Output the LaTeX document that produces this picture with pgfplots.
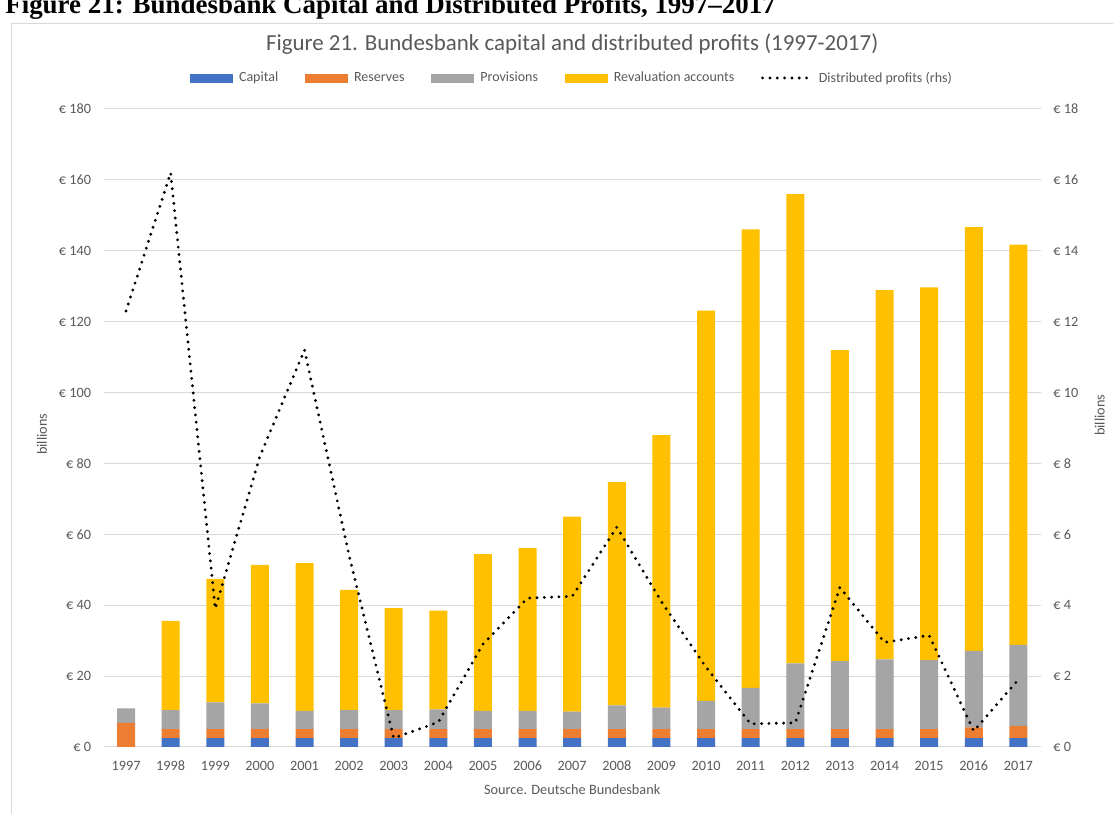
\documentclass[border=0pt]{standalone}
\usepackage{fontspec}
\setmainfont{Carlito}
\newfontfamily\headfont{Liberation Serif}
\usepackage{pgfplots}
\pgfplotsset{compat=1.18}
\usepackage{pgfplotstable}

\definecolor{capblue}{HTML}{4472C4}
\definecolor{resorange}{HTML}{ED7D31}
\definecolor{provgray}{HTML}{A5A5A5}
\definecolor{revyellow}{HTML}{FFC000}
\definecolor{gridgray}{HTML}{D9D9D9}
\definecolor{textgray}{HTML}{595959}

% EUR billions; profit on the right axis
\pgfplotstableread{
idx cap res prov reval profit
0  0   6.8 4.1  0     12.3
1  2.5 2.5 5.4  25.2  16.2
2  2.5 2.5 7.6  34.8  3.9
3  2.5 2.5 7.3  39.1  8.2
4  2.5 2.5 5.2  41.7  11.2
5  2.5 2.5 5.4  33.9  5.4
6  2.5 2.5 5.4  28.8  0.25
7  2.5 2.5 5.6  27.9  0.7
8  2.5 2.5 5.2  44.2  2.9
9  2.5 2.5 5.2  45.9  4.2
10 2.5 2.5 5.0  55.0  4.25
11 2.5 2.5 6.7  63.0  6.2
12 2.5 2.5 6.1  76.9  4.1
13 2.5 2.5 8.0  110.1 2.25
14 2.5 2.5 11.7 129.3 0.65
15 2.5 2.5 18.6 132.4 0.68
16 2.5 2.5 19.2 87.8  4.5
17 2.5 2.5 19.7 104.2 2.95
18 2.5 2.5 19.5 105.2 3.15
19 2.5 3.0 21.6 119.6 0.45
20 2.5 3.4 22.9 112.9 1.9
}\bbdata

\pgfplotsset{
  bbaxis/.style={
    scale only axis, width=702.75pt, height=478.5pt,
    xmin=-0.5, xmax=20.5,
    axis line style={draw=none}, tick style={draw=none},
    /pgf/number format/assume math mode=true,
    typeset ticklabels with strut,
    tick label style={font=\fontsize{10.7}{12}\selectfont, text=textgray},
    label style={font=\fontsize{10.7}{12}\selectfont, text=textgray},
  },
}

\begin{document}
\begin{tikzpicture}
\useasboundingbox (-77.8pt,-50.25pt) rectangle (757pt,560.25pt);

\node[anchor=base west, inner sep=0pt, font=\headfont\bfseries\fontsize{20.2}{24}\selectfont]
  at (-74pt,549.75pt) {Figure 21: Bundesbank Capital and Distributed Profits, 1997–2017};
\draw[gridgray, line width=0.75pt] (-69.5pt,-80pt) -- (-69.5pt,542.25pt) -- (800pt,542.25pt);

\begin{axis}[bbaxis,
  ymin=0, ymax=180, ytick={0,20,...,180},
  ymajorgrids, grid style={draw=gridgray, line width=0.75pt},
  ybar stacked, bar width=13.5pt,
  xtick={0,...,20},
  xticklabels={1997,1998,1999,2000,2001,2002,2003,2004,2005,2006,2007,2008,2009,2010,2011,2012,2013,2014,2015,2016,2017},
  xticklabel style={yshift=-6pt},
  yticklabel={€ \pgfmathprintnumber{\tick}},
  yticklabel style={xshift=-6pt},
  xlabel={Source. Deutsche Bundesbank},
  xlabel style={at={(axis description cs:0.5,-0.0674)}, anchor=center},
  ylabel={billions},
  ylabel style={at={(axis description cs:-0.066,0.49)}, anchor=center, rotate=0},
  title={Figure 21. Bundesbank capital and distributed profits (1997-2017)},
  title style={at={(axis description cs:0.5,1.089)}, anchor=center,
    font=\fontsize{17.2}{20}\selectfont, text=textgray},
]
\addplot[fill=capblue, draw=none] table[x=idx, y=cap] {\bbdata};
\addplot[fill=resorange, draw=none] table[x=idx, y=res] {\bbdata};
\addplot[fill=provgray, draw=none] table[x=idx, y=prov] {\bbdata};
\addplot[fill=revyellow, draw=none] table[x=idx, y=reval] {\bbdata};
\end{axis}

\begin{axis}[bbaxis,
  ymin=0, ymax=18, ytick={0,2,...,18},
  axis x line=none, axis y line*=right,
  yticklabel={€ \pgfmathprintnumber{\tick}},
  yticklabel style={xshift=6pt},
  ylabel={billions},
  ylabel style={at={(axis description cs:1.063,0.52)}, anchor=center, rotate=0},
  legend columns=5,
  legend style={draw=none, fill=none, at={(axis description cs:0.5,1.0486)}, anchor=center,
    font=\fontsize{10.5}{12}\selectfont, text=textgray,
    /tikz/every odd column/.append style={column sep=3pt},
    /tikz/every even column/.append style={column sep=18pt}},
]
\addlegendimage{legend image code/.code={\fill[capblue] (0pt,-3pt) rectangle (31.5pt,3pt);}}
\addlegendentry{Capital}
\addlegendimage{legend image code/.code={\fill[resorange] (0pt,-3pt) rectangle (31.5pt,3pt);}}
\addlegendentry{Reserves}
\addlegendimage{legend image code/.code={\fill[provgray] (0pt,-3pt) rectangle (31.5pt,3pt);}}
\addlegendentry{Provisions}
\addlegendimage{legend image code/.code={\fill[revyellow] (0pt,-3pt) rectangle (31.5pt,3pt);}}
\addlegendentry{Revaluation accounts}
\addplot[black, line width=2.4pt, dash pattern=on 0pt off 5.5pt, line cap=round, mark=none,
  legend image code/.code={\draw[black, line width=2.4pt, dash pattern=on 0pt off 5.5pt, line cap=round] (0pt,0pt) -- (36pt,0pt);}]
  table[x=idx, y=profit] {\bbdata};
\addlegendentry{Distributed profits (rhs)}
\end{axis}
\end{tikzpicture}
\end{document}
